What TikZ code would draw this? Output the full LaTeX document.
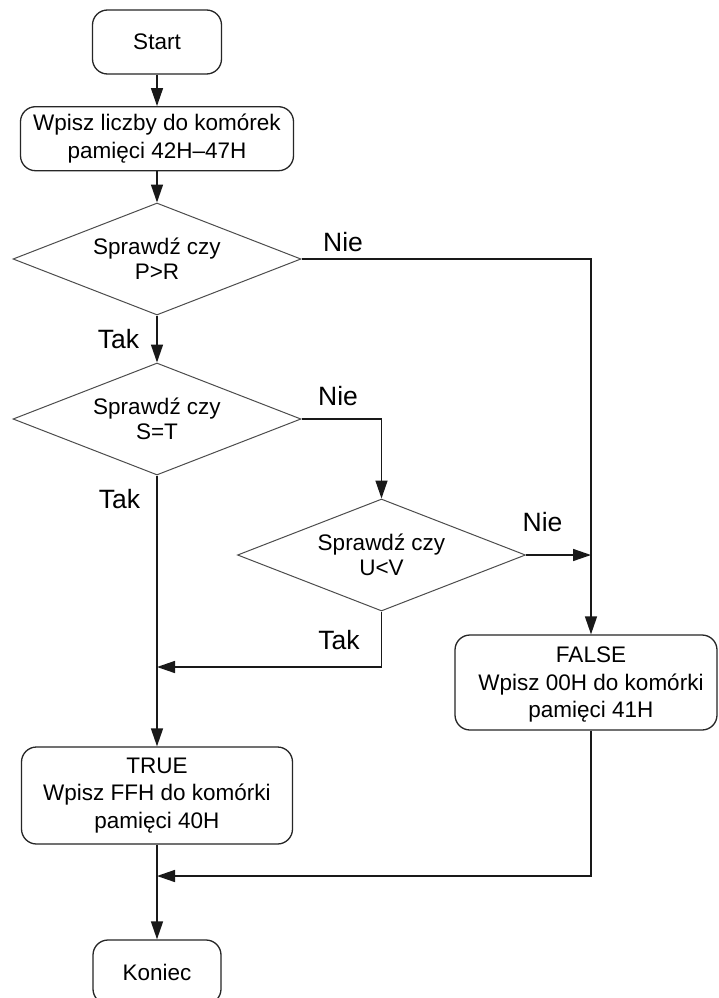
\documentclass[tikz,border=0pt]{standalone}
\usepackage{fontspec}
\setmainfont{Liberation Sans}
\usetikzlibrary{shapes.geometric,arrows.meta}
\tikzset{
  boxstyle/.style={draw=black!85, line width=1.3pt, rounded corners=15pt, inner sep=0pt, align=center,
    font=\fontsize{22.5}{27.5}\selectfont},
  decision/.style={diamond, draw=black!70, line width=1pt, aspect=2.57, minimum width=288pt,
    minimum height=112pt, inner sep=0pt, align=center, font=\fontsize{22.5}{25}\selectfont},
  arr/.style={line width=1.5pt, draw=black!90, -{Triangle[length=18pt,width=12pt]}},
  plain/.style={line width=1.5pt, draw=black!90},
  lbl/.style={inner sep=0pt, font=\fontsize{26.5}{30}\selectfont},
  txt/.style={inner sep=0pt, align=center, font=\fontsize{22.5}{27.5}\selectfont}
}
\begin{document}
\begin{tikzpicture}[x=1pt,y=-1pt]
\useasboundingbox (0,0) rectangle (718,998);
\clip (0,0) rectangle (718,998);
\fill[white] (0,0) rectangle (718,998);

\node[boxstyle, minimum width=129pt, minimum height=64pt] (start) at (157,42) {Start};
\node[boxstyle, minimum width=273pt, minimum height=64pt] (input) at (157,138.7)
  {Wpisz liczby do komórek\\pamięci 42H--47H};
\node[decision] (d1) at (157,259) {Sprawdź czy\\P>R};
\node[decision] (d2) at (157,419) {Sprawdź czy\\S=T};
\node[decision] (d3) at (381.5,555) {Sprawdź czy\\U<V};
\node[boxstyle, minimum width=271pt, minimum height=97pt] (truebox) at (157,795.5)
  {TRUE\\Wpisz FFH do komórki\\pamięci 40H};
\node[boxstyle, minimum width=262pt, minimum height=95pt] (falsebox) at (586,682.5) {};
\node[txt] (falsetext) at (591,684.5) {FALSE\\Wpisz 00H do komórki\\pamięci 41H};
\node[boxstyle, minimum width=128pt, minimum height=64pt] (koniec) at (157,972) {Koniec};

\coordinate (fcol) at (591,0);
\coordinate (j1) at (157,667);
\coordinate (j2) at (157,876);

\draw[arr] (start) -- (input);
\draw[arr] (input) -- (d1);
\draw[arr] (d1.east) -| (fcol |- falsebox.north);
\draw[arr] (d1.south) -- (d2.north);
\draw[arr] (d2.east) -| (d3.north);
\draw[arr] (d3.east) -- (d3.east -| fcol);
\draw[arr] (d3.south) |- (j1);
\draw[arr] (d2.south) -- (truebox.north);
\draw[arr] (truebox.south) -- (koniec.north);
\draw[arr] (fcol |- falsebox.south) |- (j2);

\node[lbl] (l1) at (343,242) {Nie};
\node[lbl] (l2) at (118.5,339) {Tak};
\node[lbl] (l3) at (338,396) {Nie};
\node[lbl] (l4) at (542.5,522) {Nie};
\node[lbl] (l5) at (339,640.5) {Tak};
\node[lbl] (l6) at (119.5,499) {Tak};
\end{tikzpicture}
\end{document}
